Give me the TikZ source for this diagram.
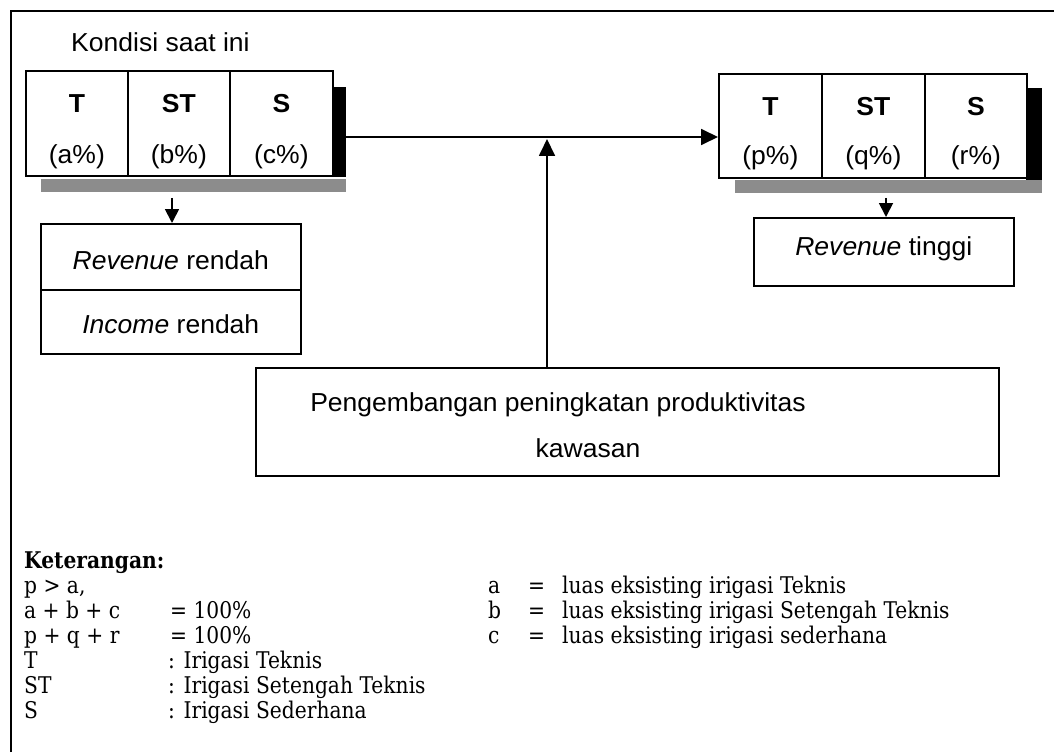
\documentclass[tikz,border=0pt]{standalone}
\usepackage{fontspec}
\setmainfont{DejaVu Serif}[FakeStretch=0.88]
\newfontfamily\sansf{Liberation Sans}[FakeStretch=1.02]
\usetikzlibrary{arrows.meta}
\begin{document}
\begin{tikzpicture}[x=1pt,y=-1pt,
  cell/.style={draw, line width=1.8pt, inner sep=0pt, anchor=north west, minimum height=105pt},
  sbox/.style={draw, line width=1.6pt, inner sep=0pt, anchor=north west},
  stxt/.style={font=\sansf\fontsize{26}{30}\selectfont, inner sep=0pt},
  btxt/.style={font=\sansf\bfseries\fontsize{26}{30}\selectfont, inner sep=0pt},
  ltxt/.style={font=\fontsize{23}{25}\selectfont, inner sep=0pt, anchor=base west},
  shadowdark/.style={fill=black, draw=none, inner sep=0pt, anchor=north west},
  shadowgrey/.style={fill=black!45, draw=none, inner sep=0pt, anchor=north west},
  arr/.style={line width=1.8pt, -{Triangle[length=17pt,width=16pt]}},
  sarr/.style={line width=1.8pt, -{Triangle[length=14pt,width=14pt]}},
  frame/.style={line width=1.6pt}
]
\useasboundingbox (0,0) rectangle (1054,754);
% outer frame
\coordinate (f1) at (11,752);
\coordinate (f2) at (11,11);
\coordinate (f3) at (1054,11);
\draw[frame] (f1) -- (f2) -- (f3);

% title
\node[stxt, anchor=base west] (title) at (71,52) {Kondisi saat ini};

% left cells and shadow
\node[shadowdark, minimum width=14pt, minimum height=90pt] (lsh) at (332,87) {};
\node[shadowgrey, minimum width=305pt, minimum height=13pt] (lsb) at (41,179) {};
\node[cell, minimum width=102pt] (lT) at (25,70) {};
\node[cell, minimum width=102pt] (lST) at (127,70) {};
\node[cell, minimum width=103pt] (lS) at (229,70) {};
\node[btxt] (lTa) at ([yshift=-34pt]lT.north) {T};
\node[stxt] (lTb) at ([yshift=-87pt]lT.north) {(a\%)};
\node[btxt] (lSTa) at ([yshift=-34pt]lST.north) {ST};
\node[stxt] (lSTb) at ([yshift=-87pt]lST.north) {(b\%)};
\node[btxt] (lSa) at ([yshift=-34pt]lS.north) {S};
\node[stxt] (lSb) at ([yshift=-87pt]lS.north) {(c\%)};

% right cells and shadow
\node[shadowdark, minimum width=16pt, minimum height=92pt] (rsh) at (1026,88) {};
\node[shadowgrey, minimum width=307pt, minimum height=13pt] (rsb) at (735,180) {};
\node[cell, minimum width=103pt, minimum height=104pt] (rT) at (718,73) {};
\node[cell, minimum width=103pt, minimum height=104pt] (rST) at (821,73) {};
\node[cell, minimum width=102pt, minimum height=104pt] (rS) at (924,73) {};
\node[btxt] (rTa) at ([yshift=-34pt]rT.north) {T};
\node[stxt] (rTb) at ([yshift=-85pt]rT.north) {(p\%)};
\node[btxt] (rSTa) at ([yshift=-34pt]rST.north) {ST};
\node[stxt] (rSTb) at ([yshift=-85pt]rST.north) {(q\%)};
\node[btxt] (rSa) at ([yshift=-34pt]rS.north) {S};
\node[stxt] (rSb) at ([yshift=-85pt]rS.north) {(r\%)};

% revenue boxes
\node[sbox, minimum width=260pt, minimum height=66pt] (rev1) at (40,223) {};
\node[sbox, minimum width=260pt, minimum height=64pt] (rev2) at (40,289) {};
\node[stxt, anchor=base] (rev1t) at ([yshift=-46pt]rev1.north) {\textit{Revenue} rendah};
\node[stxt, anchor=base] (rev2t) at ([yshift=-44pt]rev2.north) {\textit{Income} rendah};
\node[sbox, minimum width=260pt, minimum height=68pt] (revt) at (753,217) {};
\node[stxt, anchor=base] (revtt) at ([yshift=-38pt]revt.north) {\textit{Revenue} tinggi};

% development box
\node[sbox, minimum width=743pt, minimum height=108pt] (dev) at (255,367) {};
\node[stxt, anchor=base] (dev1) at (558,411) {Pengembangan peningkatan produktivitas};
\node[stxt, anchor=base] (dev2) at (588,457) {kawasan};

% connectors
\coordinate (hstart) at (346,137);
\draw[arr] (hstart) -- (rT.west |- hstart);
\coordinate (vtop) at (547,139);
\draw[arr] (dev.north -| vtop) -- (vtop);
\coordinate (ls) at (172,198);
\draw[sarr] (ls) -- (rev1.north -| ls);
\coordinate (rs) at (886,198);
\draw[sarr] (rs) -- (revt.north -| rs);

% legend
\node[ltxt, font=\bfseries\fontsize{23}{25}\selectfont] (ket) at (24,568) {Keterangan:};
\node[ltxt] (k1) at (24,593) {p > a,};
\node[ltxt] (k2) at (24,618) {a + b + c};
\node[ltxt] (k2b) at (170,618) {= 100\%};
\node[ltxt] (k3) at (24,643) {p + q + r};
\node[ltxt] (k3b) at (170,643) {= 100\%};
\node[ltxt] (k4) at (24,668) {T};
\node[ltxt] (k4b) at (168,668) {: Irigasi Teknis};
\node[ltxt] (k5) at (24,693) {ST};
\node[ltxt] (k5b) at (168,693) {: Irigasi Setengah Teknis};
\node[ltxt] (k6) at (24,718) {S};
\node[ltxt] (k6b) at (168,718) {: Irigasi Sederhana};
\node[ltxt] (ra) at (488,593) {a};
\node[ltxt] (rae) at (528,593) {=};
\node[ltxt] (rat) at (562,593) {luas eksisting irigasi Teknis};
\node[ltxt] (rb) at (488,618) {b};
\node[ltxt] (rbe) at (528,618) {=};
\node[ltxt] (rbt) at (562,618) {luas eksisting irigasi Setengah Teknis};
\node[ltxt] (rc) at (488,643) {c};
\node[ltxt] (rce) at (528,643) {=};
\node[ltxt] (rct) at (562,643) {luas eksisting irigasi sederhana};
\end{tikzpicture}
\end{document}
